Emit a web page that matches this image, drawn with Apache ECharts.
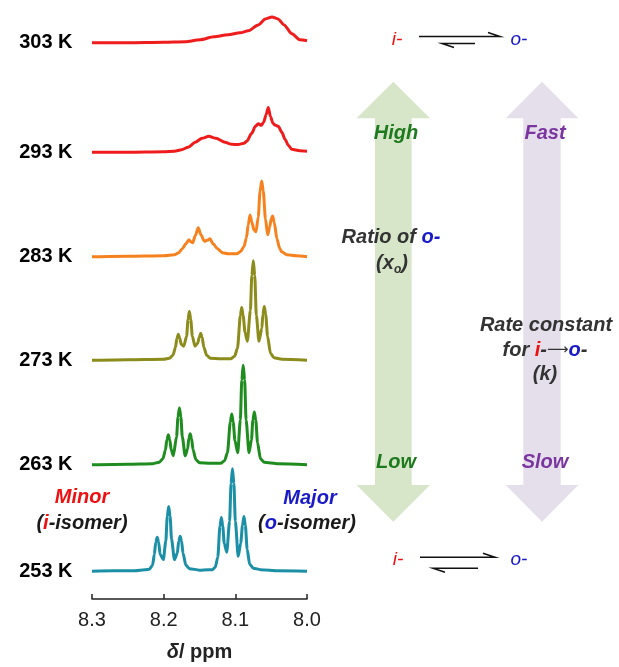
<!DOCTYPE html>
<html><head><meta charset="utf-8">
<script src="https://cdn.jsdelivr.net/npm/echarts@6/dist/echarts.min.js"></script>
<style>html,body{margin:0;padding:0;background:#fff}#c{width:619px;height:667px}</style>
</head><body><div id="c"></div>
<script>
// Temperatures (top to bottom) and vertical stacking offsets (intensity units)
const temps = ['303 K', '293 K', '283 K', '273 K', '263 K', '253 K'];
const offsets = [559, 449, 344, 240, 135, 28];
const colors = ['#ee1c1c', '#ee1c1c', '#f5821f', '#8c8c1c', '#1f8c1f', '#1b8fa6'];
const xTicks = [8.0, 8.1, 8.2, 8.3];

// Spectra: [ppm, intensity above baseline]
const s303 = [[8.300,0],[8.250,0],[8.200,0.5],[8.170,1],[8.149,3],[8.130,6],[8.110,8],[8.0935,10],[8.082,12],[8.068,18],[8.058,24],[8.0488,26],[8.0405,24],[8.032,18],[8.021,9],[8.0098,3],[8.000,2]];
const s293 = [[8.300,0],[8.250,0],[8.200,0.5],[8.185,1],[8.175,2.5],[8.166,5],[8.156,10],[8.1465,14],[8.137,16],[8.127,14],[8.1144,10],[8.105,8],[8.096,7.7],[8.088,9],[8.0841,11],[8.0772,19],[8.072,26],[8.068,28.7],[8.064,27],[8.0605,30],[8.057,38],[8.054,45],[8.051,36],[8.0475,29],[8.044,27],[8.040,26],[8.035,20],[8.0307,13],[8.026,7],[8.0214,3],[8.010,1.5],[8.000,1]];
const s283 = [[8.300,0],[8.250,0.5],[8.200,1],[8.185,2],[8.179,4],[8.174,8],[8.169,13],[8.1647,17],[8.162,15],[8.1595,14],[8.156,21],[8.1517,29],[8.148,22],[8.1433,15.6],[8.139,16.5],[8.1354,18],[8.131,13],[8.125,8],[8.118,4],[8.110,3],[8.104,3],[8.098,3],[8.093,5],[8.088,10],[8.0845,19],[8.082,32],[8.0795,42],[8.077,35],[8.074,27],[8.0712,25],[8.068,40],[8.0655,66],[8.0632,76],[8.061,66],[8.058,38],[8.0549,22],[8.052,30],[8.050,38],[8.0479,41],[8.0455,34],[8.042,18],[8.038,8],[8.0353,5],[8.028,2],[8.015,1],[8.000,0]];
const s273 = [[8.300,0],[8.250,0.5],[8.200,1],[8.192,2],[8.187,5],[8.1835,13],[8.1815,22],[8.1796,26],[8.1776,22],[8.1755,16],[8.172,14],[8.168,24],[8.166,41],[8.1642,49],[8.1622,41],[8.160,24],[8.1563,14],[8.1525,17],[8.1503,23],[8.1483,27],[8.1463,23],[8.144,13],[8.140,5],[8.135,2],[8.120,1.5],[8.106,1.5],[8.101,4],[8.097,12],[8.093,45],[8.0911,53],[8.0891,45],[8.0865,28],[8.0833,19],[8.079,50],[8.077,85],[8.0749,100],[8.0729,85],[8.0707,45],[8.067,19],[8.063,32],[8.0616,46],[8.0596,54],[8.0576,46],[8.055,24],[8.051,7],[8.046,2.5],[8.035,1],[8.000,0]];
const s263 = [[8.300,0],[8.250,0.5],[8.215,1],[8.206,2.5],[8.201,6],[8.1975,15],[8.1955,25],[8.1935,30],[8.1915,25],[8.1895,15],[8.1866,9],[8.182,28],[8.180,48],[8.178,57],[8.176,48],[8.174,28],[8.170,9],[8.1665,16],[8.165,26],[8.163,31],[8.161,26],[8.159,15],[8.155,5],[8.150,2],[8.135,1.5],[8.120,1.5],[8.115,4],[8.111,12],[8.107,43],[8.105,51],[8.103,43],[8.1005,24],[8.0967,12],[8.093,45],[8.091,85],[8.089,100],[8.087,85],[8.085,45],[8.0809,12],[8.0775,25],[8.0755,45],[8.0735,53],[8.0715,45],[8.069,22],[8.065,6],[8.060,2.5],[8.040,1],[8.000,0]];
const s253 = [[8.300,0],[8.270,0.5],[8.240,0.5],[8.226,1.5],[8.220,2],[8.2155,6],[8.213,17],[8.211,29],[8.209,34],[8.207,29],[8.205,17],[8.2005,11.6],[8.197,30],[8.195,55],[8.193,65],[8.191,55],[8.189,32],[8.185,11.6],[8.181,18],[8.179,30],[8.177,35],[8.175,30],[8.173,18],[8.169,6],[8.164,2.5],[8.150,1],[8.138,1.5],[8.132,1.5],[8.128,4],[8.1245,14],[8.1215,45],[8.1195,54],[8.1175,45],[8.1155,28],[8.112,19],[8.108,50],[8.106,88],[8.104,103],[8.102,88],[8.100,50],[8.096,15],[8.0925,28],[8.090,46],[8.088,55],[8.086,46],[8.0835,22],[8.080,7],[8.075,3],[8.065,1.5],[8.040,0.5],[8.000,0]];
const spectra = [s303, s293, s283, s273, s263, s253];

const chart = echarts.init(document.getElementById('c'));
const FONT = '"Liberation Sans", Arial, sans-serif';
const DARK = '#333333', RED = '#ee1111', BLUE = '#1a1ac8', GREEN = '#1e7a1e', PURPLE = '#7b359f';
const FS = 20;

const series = spectra.map((s, i) => ({
  type: 'line', data: s.map(([p, v]) => [p, v + offsets[i]]),
  symbol: 'none', smooth: 0.25, smoothMonotone: 'x',
  lineStyle: { color: colors[i], width: 3 }, silent: true, animation: false, z: 3
}));
series.push({
  type: 'scatter', symbol: 'circle', symbolSize: 1, itemStyle: { color: 'rgba(0,0,0,0)' },
  data: offsets.map((o, i) => ({ value: [8.3, o], name: temps[i] })),
  label: { show: true, position: 'left', distance: 19, formatter: p => p.name,
    fontFamily: FONT, fontWeight: 'bold', fontSize: FS, color: '#000', opacity: 1 },
  emphasis: { disabled: true },
  silent: true, animation: false
});

function txt(x, y, text, rich) {
  return { type: 'text', x: x, y: y, silent: true,
    style: { text: text, rich: rich, align: 'center', verticalAlign: 'middle',
      fontFamily: FONT, fontSize: FS, fontWeight: 'bold', fontStyle: 'italic', fill: DARK } };
}
const bi = (c, s) => ({ fill: c, color: c, fontFamily: FONT, fontSize: s || FS, fontWeight: 'bold', fontStyle: 'italic' });
const ri = (c, s) => ({ fill: c, color: c, fontFamily: FONT, fontSize: s || 19, fontWeight: 'normal', fontStyle: 'italic' });

function dblArrow(cx, w, hw, top, bot, hh, fill) {
  return { type: 'polygon', silent: true, z: 0, shape: { points: [
    [cx, top], [cx + hw, top + hh], [cx + w, top + hh], [cx + w, bot - hh], [cx + hw, bot - hh],
    [cx, bot], [cx - hw, bot - hh], [cx - w, bot - hh], [cx - w, top + hh], [cx - hw, top + hh]] },
    style: { fill: fill } };
}
function eqm(y, fx1, fx2, bx1, bx2, dy) {
  const st = { stroke: '#111', lineWidth: 1.5, fill: null };
  return [
    { type: 'polyline', silent: true, shape: { points: [[fx1, y], [fx2, y], [fx2 - 12, y - 4]] }, style: st },
    { type: 'polyline', silent: true, shape: { points: [[bx2, y + dy], [bx1, y + dy], [bx1 + 12, y + dy + 4]] }, style: st }
  ];
}

const graphics = [
  dblArrow(393.3, 18.3, 36.7, 81.7, 521.7, 36.6, '#d7e6c8'),
  dblArrow(542, 18.7, 36.3, 81.7, 521.7, 36.6, '#e5dfec'),
  txt(397, 40, '{a|i-}', { a: ri(RED) }),
  txt(519, 40, '{a|o-}', { a: ri(BLUE) }),
  ...eqm(36.5, 419, 500, 442, 475, 7),
  txt(398, 560, '{a|i-}', { a: ri(RED) }),
  txt(519, 560, '{a|o-}', { a: ri(BLUE) }),
  ...eqm(557.3, 420, 495, 433, 478, 11),
  txt(396, 133, '{a|High}', { a: bi(GREEN) }),
  txt(545, 133, '{a|Fast}', { a: bi(PURPLE) }),
  txt(396, 462, '{a|Low}', { a: bi(GREEN) }),
  txt(545, 462, '{a|Slow}', { a: bi(PURPLE) }),
  txt(391, 237, '{a|Ratio of }{b|o-}', { a: bi(DARK), b: bi(BLUE) }),
  txt(392, 263, '{a|(x}{s|o}{a|)}', { a: bi(DARK), s: Object.assign(bi(DARK, 12), { verticalAlign: 'bottom', padding: [0, 0, -3, 0] }) }),
  txt(546, 325, '{a|Rate constant}', { a: bi(DARK) }),
  txt(545, 350, '{a|for }{r|i}{a|-}{k|⟶}{b|o}{a|-}', { a: bi(DARK), r: bi(RED), b: bi(BLUE), k: { fill: DARK, fontFamily: 'DejaVu Sans', fontSize: 15 } }),
  txt(545, 374, '{a|(k)}', { a: bi(DARK) }),
  txt(82, 497, '{a|Minor}', { a: bi(RED) }),
  txt(82, 523, '{a|(}{r|i}{a|-isomer)}', { a: bi('#1a1a1a'), r: bi(RED) }),
  txt(310, 498, '{a|Major}', { a: bi(BLUE) }),
  txt(307, 523, '{a|(}{b|o}{a|-isomer)}', { a: bi('#1a1a1a'), b: bi(BLUE) })
];

chart.setOption({
  animation: false,
  backgroundColor: '#ffffff',
  grid: { left: 92, right: 312, top: 0, bottom: 65, containLabel: false },
  xAxis: {
    type: 'value', inverse: true, min: 8.0, max: 8.3, interval: 0.1,
    axisLine: { lineStyle: { color: '#222', width: 1.5 } },
    axisTick: { inside: true, length: 5, lineStyle: { color: '#222', width: 1.5 } },
    splitLine: { show: false },
    axisLabel: { formatter: v => { const t = xTicks.find(k => Math.abs(k - v) < 1e-6); return (t !== undefined ? t : v).toFixed(1); },
      fontSize: FS, color: '#222', fontFamily: FONT, margin: 11 },
    name: '{d|δ}{p|/ ppm}', nameLocation: 'middle', nameGap: 43,
    nameTextStyle: { rich: {
      d: { fontFamily: FONT, fontSize: FS, fontWeight: 'bold', fontStyle: 'italic', color: '#222' },
      p: { fontFamily: FONT, fontSize: FS, fontWeight: 'bold', color: '#222' } } }
  },
  yAxis: { type: 'value', min: 0, max: 602, show: false },
  series: series,
  graphic: graphics
});
</script></body></html>
